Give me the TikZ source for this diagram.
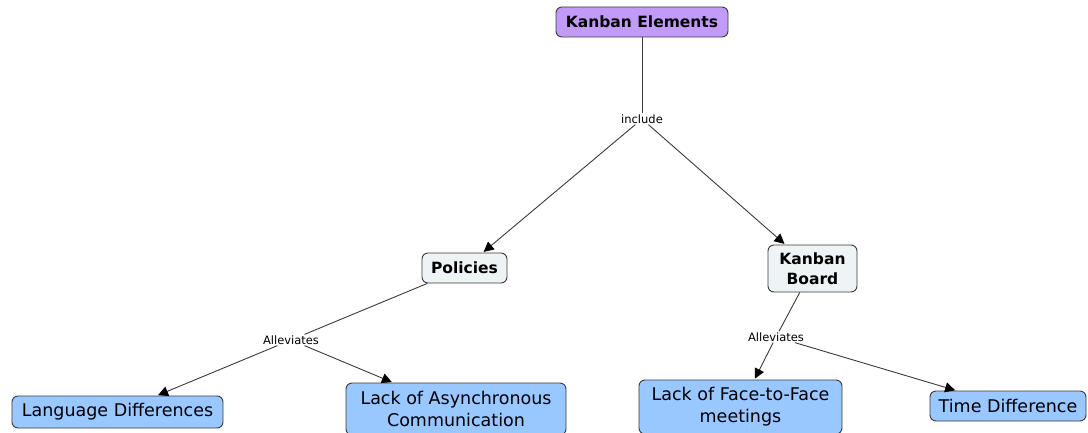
\documentclass[tikz,border=0pt]{standalone}
\usepackage{fontspec}
\setmainfont{DejaVu Sans}
\usetikzlibrary{arrows.meta}
\definecolor{topfill}{HTML}{C29AF7}
\definecolor{midfill}{HTML}{EEF4F6}
\definecolor{leaffill}{HTML}{99C7FF}
\definecolor{edgecol}{HTML}{3A3A3A}
\tikzset{
  box/.style={draw=edgecol, line width=0.9pt, rounded corners=6pt, align=center, inner sep=0pt},
  topbox/.style={box, fill=topfill, font=\fontsize{15.5}{18}\selectfont\bfseries},
  midbox/.style={box, fill=midfill, font=\fontsize{15.5}{20}\selectfont\bfseries},
  leafbox/.style={box, fill=leaffill, font=\fontsize{17.5}{22}\selectfont},
  lbl/.style={font=\fontsize{11.5}{13}\selectfont, fill=white, inner sep=1pt},
  conn/.style={draw=edgecol, line width=0.9pt},
  arr/.style={conn, -{Triangle[length=10pt,width=10pt,fill=black,color=black]}, shorten >=1pt}
}
\begin{document}
\begin{tikzpicture}[x=1pt,y=-1pt]
\useasboundingbox (0,0) rectangle (1088,433);
\node[topbox, minimum width=172pt, minimum height=30pt] (ke) at (642,22) {Kanban Elements};
\node[lbl] (inc) at (642,119) {include};
\node[midbox, minimum width=85pt, minimum height=30pt] (pol) at (464.5,268) {Policies};
\node[midbox, minimum width=89pt, minimum height=47pt] (kb) at (812.5,268.5) {Kanban\\Board};
\node[lbl] (al1) at (291,340) {Alleviates};
\node[lbl] (al2) at (776,337) {Alleviates};
\node[leafbox, minimum width=211pt, minimum height=32pt] (ld) at (117.5,412) {Language Differences};
\node[leafbox, minimum width=220pt, minimum height=52pt] (la) at (456,409) {Lack of Asynchronous\\Communication};
\node[leafbox, minimum width=203pt, minimum height=54pt] (lf) at (740.5,407) {Lack of Face-to-Face\\meetings};
\node[leafbox, minimum width=156pt, minimum height=30pt] (td) at (1008,406) {Time Difference};

\draw[conn] (ke) -- (inc);
\draw[arr] (inc) -- (pol);
\draw[arr] (inc) -- (kb);
\draw[conn] (pol) -- (al1);
\draw[arr] (al1) -- (ld);
\draw[arr] (al1) -- (la);
\draw[conn] (kb) -- (al2);
\draw[arr] (al2) -- (lf);
\draw[arr] (al2) -- (td);
\end{tikzpicture}
\end{document}
